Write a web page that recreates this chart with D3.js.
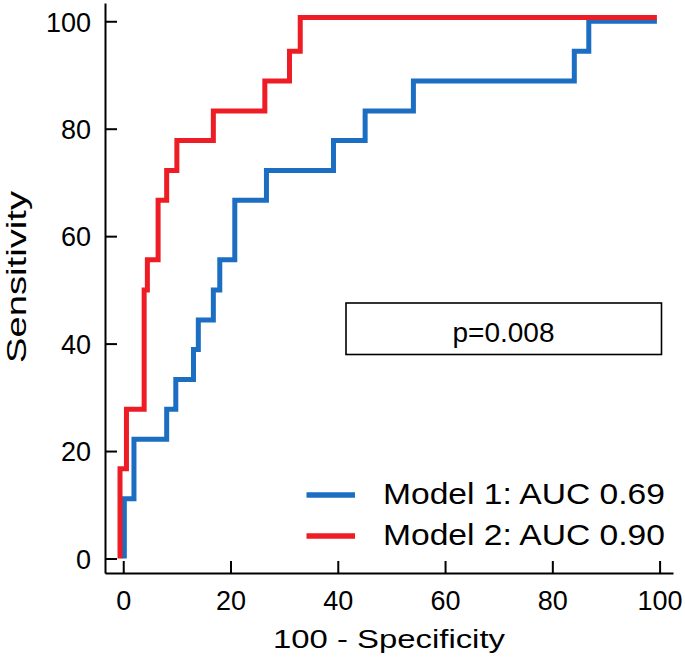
<!DOCTYPE html>
<html>
<head>
<meta charset="utf-8">
<script src="https://cdn.jsdelivr.net/npm/d3@7"></script>
<style>
  html, body { margin: 0; padding: 0; background: #fff; }
  svg { display: block; }
  text { font-family: "Liberation Sans", Arial, sans-serif; fill: #000; }
</style>
</head>
<body>
<svg id="chart" width="685" height="663"></svg>
<script>
// ---- data ----
const xTicks = [0, 20, 40, 60, 80, 100];
const yTicks = [0, 20, 40, 60, 80, 100];

const model1Fpr  = [0.2, 0.2, 2.0, 8.1, 9.8, 13.1, 14.0, 16.8, 18.0, 20.8, 26.7, 39.2, 45.1, 54.1, 84.1, 86.8, 99.5];
const model1Sens = [0, 11.1, 22.2, 27.8, 33.3, 38.9, 44.4, 50, 55.6, 66.7, 72.2, 77.8, 83.3, 88.9, 94.4, 100, 100];

const model2Fpr  = [-0.6, -0.6, 0.6, 3.9, 4.5, 6.5, 8.1, 10.0, 16.8, 26.4, 31.0, 33.0, 99.5];
const model2Sens = [0, 16.7, 27.8, 50, 55.6, 66.7, 72.2, 77.8, 83.3, 88.9, 94.4, 100.7, 100.7];

const seriesNames = ["Model 1: AUC 0.69", "Model 2: AUC 0.90"];
const seriesColors = ["#1b6ec2", "#ee1c24"];
const pText = "p=0.008";
const xTitle = "100 - Specificity";
const yTitle = "Sensitivity";

// ---- layout ----
const svg = d3.select("#chart");
const x = d3.scaleLinear().domain([-3.4, 102.5]).range([105, 673]);
const y = d3.scaleLinear().domain([-2.7, 103.4]).range([573, 3]);

// axes
const xAxis = d3.axisBottom(x).tickValues(xTicks).tickSize(-12).tickSizeOuter(0).tickPadding(18);
const yAxis = d3.axisLeft(y).tickValues(yTicks).tickSize(-12).tickSizeOuter(0).tickPadding(14);

const gx = svg.append("g").attr("transform", "translate(0,573)").call(xAxis);
const gy = svg.append("g").attr("transform", "translate(105,0)").call(yAxis);
[gx, gy].forEach(g => {
  g.select(".domain").attr("stroke", "#000").attr("stroke-width", 2);
  g.selectAll(".tick line").attr("stroke", "#000").attr("stroke-width", 2);
  g.selectAll(".tick text").attr("font-size", 27).attr("fill", "#000")
    .attr("font-family", '"Liberation Sans", Arial, sans-serif');
});
gx.selectAll(".tick text").attr("dy", "0.71em");
gy.selectAll(".tick text").attr("dy", "0.36em");

// curves
const line = d3.line().x(d => x(d[0])).y(d => y(d[1])).curve(d3.curveStepAfter);
const series = [
  d3.zip(model1Fpr, model1Sens),
  d3.zip(model2Fpr, model2Sens)
];
series.forEach((pts, i) => {
  svg.append("path")
    .attr("d", line(pts))
    .attr("fill", "none")
    .attr("stroke", seriesColors[i])
    .attr("stroke-width", 5)
    .attr("stroke-linejoin", "miter")
    .attr("stroke-linecap", "butt");
});

// p-value box
svg.append("rect")
  .attr("x", 346).attr("y", 303).attr("width", 315.5).attr("height", 51.5)
  .attr("fill", "#fff").attr("stroke", "#000").attr("stroke-width", 1.6);
svg.append("text")
  .attr("x", 503.5).attr("y", 341.5)
  .attr("text-anchor", "middle").attr("font-size", 28)
  .text(pText);

// legend
const legendY = [495, 536];
seriesNames.forEach((name, i) => {
  svg.append("line")
    .attr("x1", 306.5).attr("x2", 355)
    .attr("y1", legendY[i]).attr("y2", legendY[i])
    .attr("stroke", seriesColors[i]).attr("stroke-width", 5.5);
  svg.append("text")
    .attr("x", 383).attr("y", legendY[i] + 8.5)
    .attr("font-size", 30)
    .attr("textLength", 282).attr("lengthAdjust", "spacingAndGlyphs")
    .text(name);
});

// axis titles
svg.append("text")
  .attr("x", 389).attr("y", 648)
  .attr("text-anchor", "middle").attr("font-size", 26)
  .attr("textLength", 232).attr("lengthAdjust", "spacingAndGlyphs")
  .text(xTitle);

svg.append("text")
  .attr("transform", "translate(26,277) rotate(-90)")
  .attr("text-anchor", "middle").attr("font-size", 27)
  .attr("textLength", 172).attr("lengthAdjust", "spacingAndGlyphs")
  .text(yTitle);
</script>
</body>
</html>
